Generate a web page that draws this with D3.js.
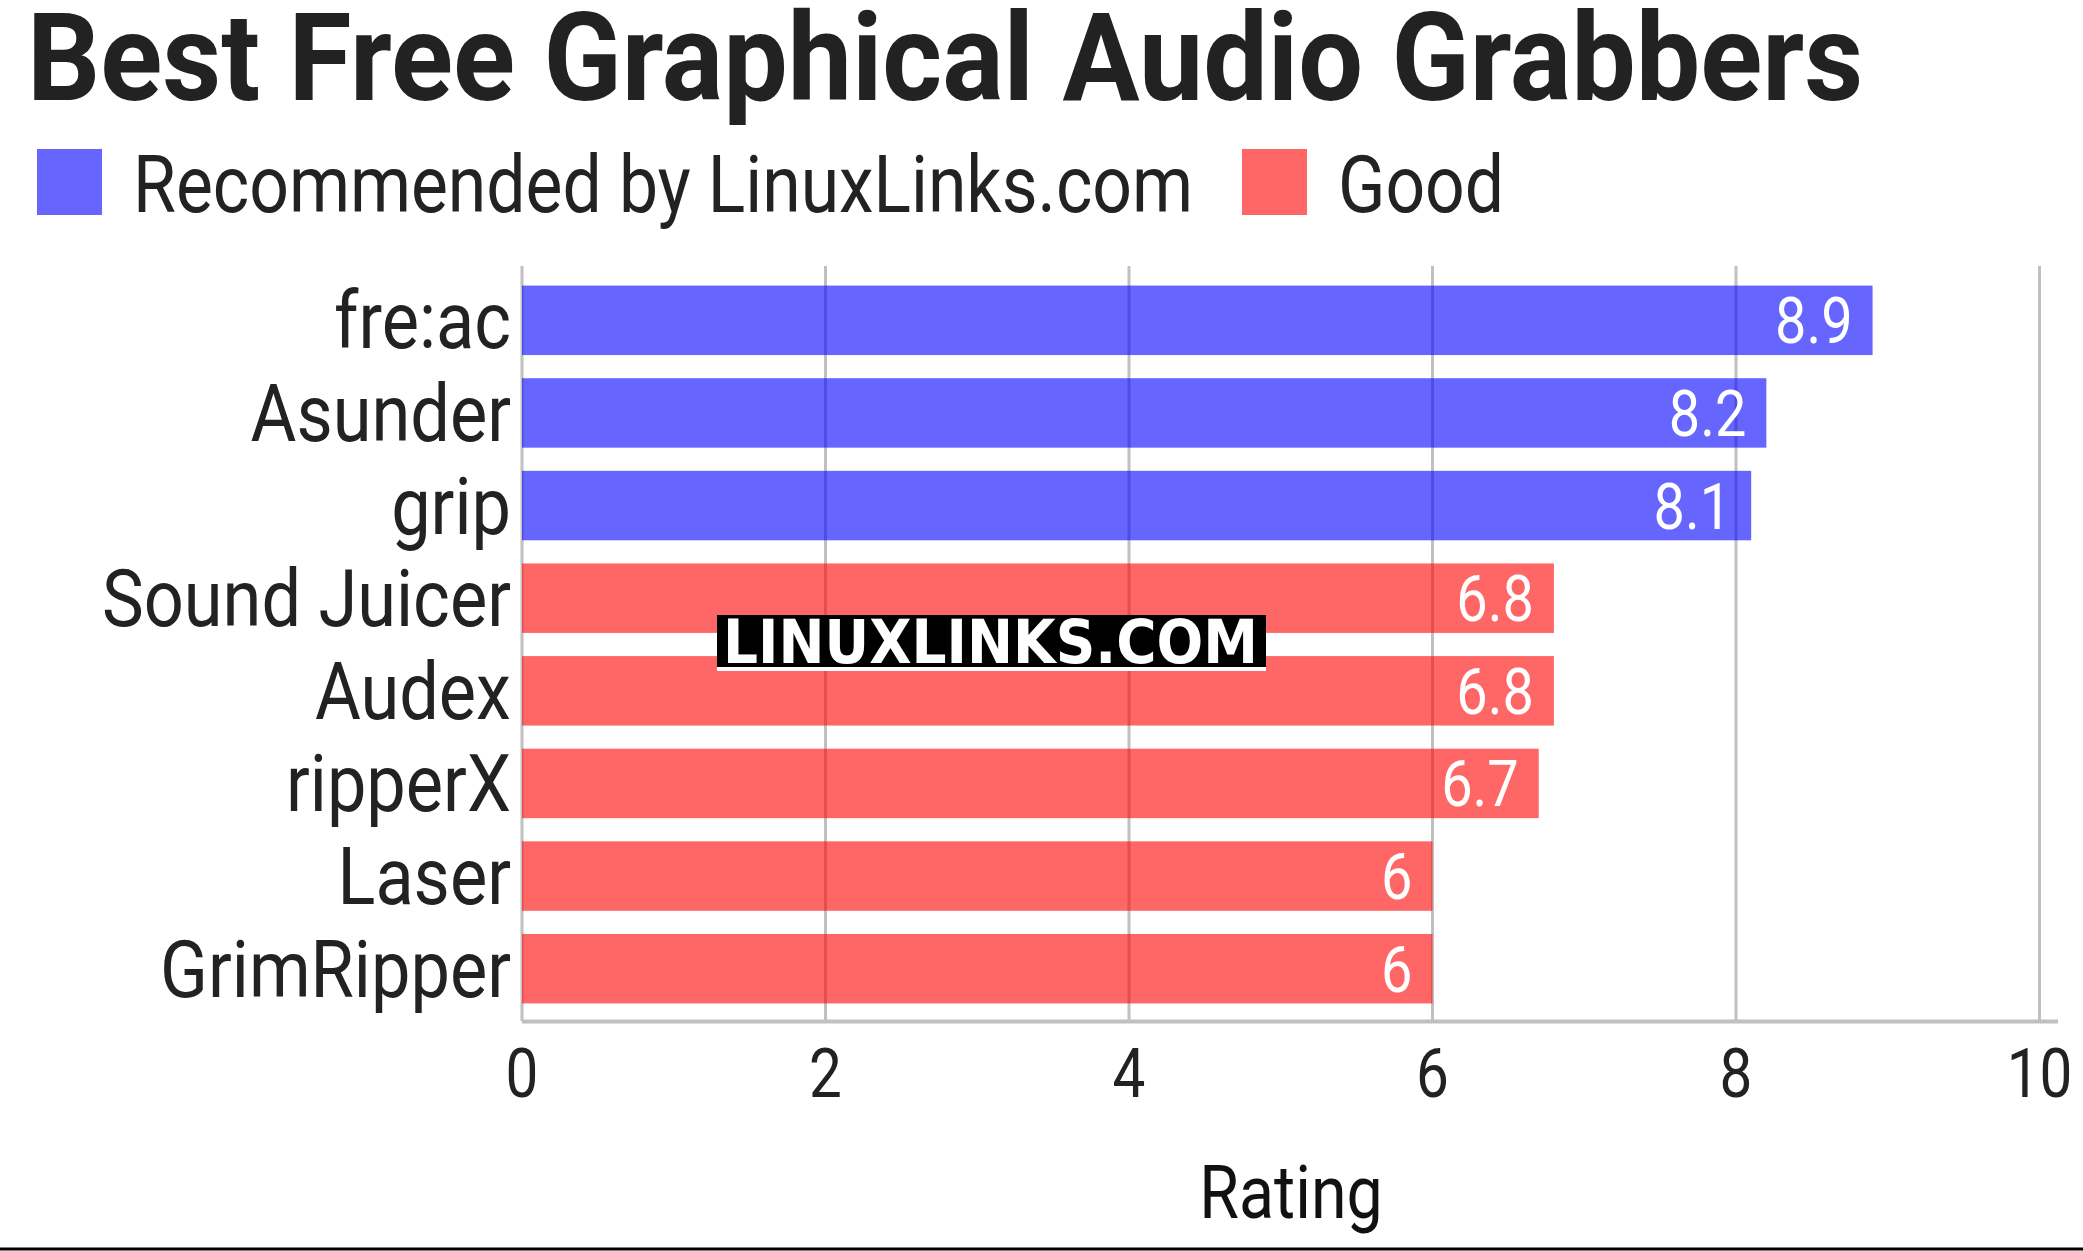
<!DOCTYPE html>
<html>
<head>
<meta charset="utf-8">
<script src="https://cdn.jsdelivr.net/npm/d3@7"></script>
<style>
  body { margin: 0; background: #ffffff; }
  text { font-family: Roboto, "Noto Sans", sans-serif; }
</style>
</head>
<body>
<div id="canvas"></div>
<script>
"use strict"

// data
let apps = ["fre:ac", "Asunder", "grip", "Sound Juicer", "Audex", "ripperX", "Laser", "GrimRipper"];
let ratings = [8.9, 8.2, 8.1, 6.8, 6.8, 6.7, 6, 6];
let groups = ["Recommended by LinuxLinks.com", "Recommended by LinuxLinks.com", "Recommended by LinuxLinks.com",
              "Good", "Good", "Good", "Good", "Good"];
let legendNames = ["Recommended by LinuxLinks.com", "Good"];
let legendColours = ["#0000ff", "#ff0000"];
let xTicks = [0, 2, 4, 6, 8, 10];

let drawingWidth = 2083;
let drawingHeight = 1251;
let condense = 0.86; // Roboto squeezed to look like Roboto Condensed

let drawing = d3.select("#canvas")
    .append("svg")
    .attr("width", drawingWidth)
    .attr("height", drawingHeight);

let x = d3.scaleLinear()
    .domain([0, 10])
    .range([522, 2039.5]);

let y = d3.scaleBand()
    .domain(apps)
    .range([274, 1015])
    .paddingInner(0.25)
    .paddingOuter(0.125);

let colour = d3.scaleOrdinal()
    .domain(legendNames)
    .range(legendColours);

// squeezed text helper
function squeezed(parent, tx, ty, str, size, anchor, fill, weight, sx) {
    return parent.append("text")
        .attr("transform", "translate(" + tx + "," + ty + ") scale(" + (sx || condense) + ",1)")
        .attr("text-anchor", anchor)
        .attr("font-size", size)
        .attr("font-weight", weight || 400)
        .attr("fill", fill)
        .text(str);
}

/* title */
squeezed(drawing, 27, 100, "Best Free Graphical Audio Grabbers", 123, "start", "#222222", 700, 0.933);

/* legend */
let legendX = [37, 1242];
legendNames.forEach(function (name, i) {
    drawing.append("rect")
        .attr("x", legendX[i])
        .attr("y", 149)
        .attr("width", 65)
        .attr("height", 66)
        .attr("fill", colour(name))
        .attr("fill-opacity", 0.6);
    squeezed(drawing, legendX[i] + 96, 212, name, 80, "start", "#222222", 400, 0.87);
});

/* grid lines */
drawing.append("g")
    .selectAll("line")
    .data(xTicks)
    .join("line")
    .attr("x1", d => x(d))
    .attr("x2", d => x(d))
    .attr("y1", 266)
    .attr("y2", 1021)
    .attr("stroke", "#c0c0c0")
    .attr("stroke-width", 3);

/* bars */
drawing.append("g")
    .selectAll("rect")
    .data(apps)
    .join("rect")
    .attr("x", x(0))
    .attr("y", d => y(d))
    .attr("width", (d, i) => x(ratings[i]) - x(0))
    .attr("height", y.bandwidth())
    .attr("fill", (d, i) => colour(groups[i]))
    .attr("fill-opacity", 0.6);

/* value labels */
apps.forEach(function (d, i) {
    squeezed(drawing, x(ratings[i]) - 20, y(d) + y.bandwidth() / 2 + 23, String(ratings[i]), 65, "end", "#ffffff");
});

/* category labels */
apps.forEach(function (d) {
    squeezed(drawing, 511, y(d) + y.bandwidth() / 2 + 28, d, 79, "end", "#222222", 400, 0.89);
});

/* x axis line */
drawing.append("line")
    .attr("x1", x(0))
    .attr("x2", 2058)
    .attr("y1", 1021.5)
    .attr("y2", 1021.5)
    .attr("stroke", "#c0c0c0")
    .attr("stroke-width", 4);

/* tick labels */
xTicks.forEach(function (t) {
    squeezed(drawing, x(t), 1097, String(t), 68, "middle", "#222222");
});

/* axis title */
squeezed(drawing, 1291, 1218, "Rating", 75, "middle", "#111111");

/* watermark */
drawing.append("rect")
    .attr("x", 717)
    .attr("y", 615)
    .attr("width", 549)
    .attr("height", 56)
    .attr("fill", "#000000");
drawing.append("rect")
    .attr("x", 717)
    .attr("y", 667)
    .attr("width", 549)
    .attr("height", 4)
    .attr("fill", "#ffffff");
drawing.append("text")
    .attr("x", 723)
    .attr("y", 663)
    .attr("textLength", 535)
    .attr("lengthAdjust", "spacingAndGlyphs")
    .attr("font-weight", 700)
    .attr("font-size", 61)
    .attr("fill", "#ffffff")
    .style("font-family", "'DejaVu Sans'")
    .text("LINUXLINKS.COM");

/* bottom rule */
drawing.append("line")
    .attr("x1", 0)
    .attr("x2", drawingWidth)
    .attr("y1", 1249)
    .attr("y2", 1249)
    .attr("stroke", "#000000")
    .attr("stroke-width", 3);
</script>
</body>
</html>
